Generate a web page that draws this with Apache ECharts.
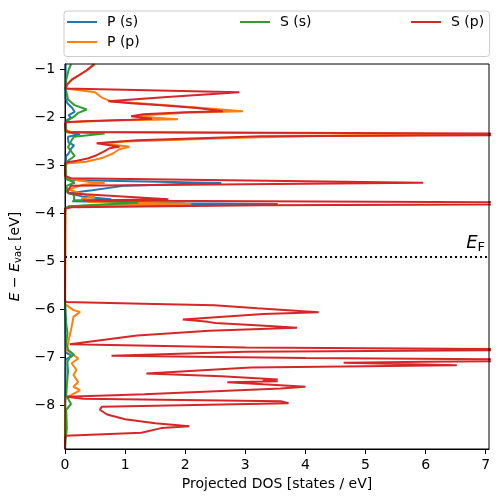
<!DOCTYPE html>
<html>
<head>
<meta charset="utf-8">
<script src="https://cdn.jsdelivr.net/npm/echarts@6/dist/echarts.min.js"></script>
<style>html,body{margin:0;padding:0;background:#fff;}#c{width:499px;height:502px;}</style>
</head>
<body>
<div id="c"></div>
<script>
// ---------- data (energy in eV relative to vacuum, DOS in states/eV) ----------
const seriesNames = ['P (s)', 'P (p)', 'S (s)', 'S (p)'];
const fermiLevel = -4.908;
const xTicks = [0, 1, 2, 3, 4, 5, 6, 7];
const yTicks = [-8, -7, -6, -5, -4, -3, -2, -1];

const energyPs = [-0.885,-1.3,-1.6,-1.70,-1.80,-1.88,-1.95,-2.0,-2.05,-2.15,-2.30,-2.345,-2.40,-2.45,-2.52,-2.58,-2.65,-2.75,-2.80,-2.95,-3.28,-3.30,-3.363,-3.42,-3.516,-3.578,-3.65,-3.704,-3.745,-3.79,-3.805,-3.84,-3.88,-4.0,-5.8,-6.9,-6.98,-7.05,-8.92];
const dosPs    = [0.01,0.01,0.01,0.04,0.12,0.16,0.06,0.10,0.03,0.01,0.01,0.25,0.05,0.05,0.06,0.15,0.10,0.06,0.02,0.01,0.01,0.05,2.60,1.00,0.45,0.06,0.30,0.77,0.12,2.00,3.54,0.30,0.02,0.0,0.0,0.01,0.12,0.01,0.0];

const energyPp = [-0.885,-1.0,-1.1,-1.2,-1.3,-1.39,-1.47,-1.57,-1.66,-1.74,-1.82,-1.866,-1.90,-1.96,-2.0,-2.033,-2.06,-2.096,-2.26,-2.30,-2.345,-2.39,-2.42,-2.50,-2.534,-2.61,-2.66,-2.75,-2.85,-2.92,-2.96,-3.2,-3.27,-3.345,-3.363,-3.40,-3.50,-3.60,-3.66,-3.69,-3.72,-3.76,-3.80,-3.85,-3.9,-5.85,-5.895,-6.02,-6.057,-6.16,-6.37,-6.647,-6.856,-6.925,-7.03,-7.13,-7.27,-7.375,-7.52,-7.62,-7.69,-7.79,-7.83,-7.9,-8.92];
const dosPp    = [0.50,0.38,0.25,0.12,0.04,0.01,0.50,0.60,0.76,1.70,2.50,2.96,2.00,1.20,1.50,1.88,0.80,0.02,0.02,0.10,7.00,4.00,2.90,1.00,0.60,1.07,0.90,0.80,0.60,0.35,0.02,0.01,0.05,0.40,0.66,0.30,0.06,0.30,0.50,0.27,0.30,0.40,2.10,0.10,0.01,0.0,0.0,0.14,0.25,0.14,0.11,0.06,0.03,0.11,0.22,0.11,0.19,0.14,0.22,0.14,0.25,0.11,0.03,0.0,0.0];

const energySs = [-0.885,-1.0,-1.2,-1.4,-1.5,-1.62,-1.74,-1.83,-1.90,-1.97,-2.05,-2.10,-2.30,-2.33,-2.40,-2.47,-2.62,-2.80,-2.90,-3.0,-3.28,-3.36,-3.42,-3.55,-3.62,-3.72,-3.78,-3.85,-3.9,-5.85,-6.3,-6.5,-6.7,-6.85,-6.95,-7.0,-7.1,-7.3,-7.6,-7.8,-7.98,-8.1,-8.5,-8.7,-8.92];
const dosSs    = [0.10,0.06,0.02,0.01,0.03,0.05,0.16,0.36,0.22,0.16,0.06,0.01,0.02,0.66,0.15,0.11,0.05,0.16,0.05,0.01,0.02,0.16,0.03,0.03,0.15,0.15,1.22,0.06,0.0,0.0,0.02,0.04,0.02,0.05,0.15,0.08,0.04,0.05,0.03,0.02,0.10,0.02,0.03,0.01,0.0];

const energySp = [-0.885,-1.01,-1.115,-1.20,-1.30,-1.39,-1.43,-1.47,-1.57,-1.658,-1.70,-1.741,-1.80,-1.866,-1.89,-1.93,-1.971,-2.002,-2.023,-2.044,-2.075,-2.096,-2.16,-2.26,-2.30,-2.345,-2.388,-2.47,-2.534,-2.608,-2.639,-2.701,-2.785,-2.848,-2.90,-2.937,-3.0,-3.22,-3.265,-3.359,-3.42,-3.516,-3.578,-3.704,-3.73,-3.755,-3.79,-3.83,-3.87,-3.90,
                  -5.80,-5.85,-5.885,-5.917,-5.98,-6.063,-6.10,-6.215,-6.24,-6.265,-6.29,-6.35,-6.386,-6.45,-6.55,-6.731,-6.80,-6.846,-6.89,-6.971,-7.02,-7.06,-7.10,-7.121,-7.169,-7.217,-7.342,-7.40,-7.447,-7.47,-7.49,-7.505,-7.524,-7.57,-7.618,-7.656,-7.775,-7.831,-7.87,-7.921,-7.962,-8.040,-8.10,-8.20,-8.30,-8.38,-8.443,-8.484,-8.582,-8.645,-8.735,-8.92];
const dosSp    = [0.48,0.36,0.23,0.12,0.04,0.01,0.02,2.90,1.70,0.72,1.10,1.60,2.20,2.63,2.00,1.30,1.10,1.30,1.45,1.10,0.30,0.01,0.00,0.01,0.05,10.6,3.26,1.20,0.525,0.906,0.74,0.66,0.525,0.39,0.20,0.01,0.00,0.00,0.10,5.96,0.10,0.05,0.05,1.72,0.30,0.30,12.0,3.30,0.10,0.00,
                  0.00,0.01,1.30,2.48,3.20,4.22,3.30,1.96,2.20,2.38,2.50,3.40,3.86,2.40,1.20,0.08,3.00,9.00,3.00,0.774,4.00,9.00,6.00,4.635,6.52,3.09,1.354,2.60,3.26,3.54,3.29,3.54,2.70,3.30,4.00,3.59,1.32,0.03,0.30,3.59,3.72,0.61,0.58,0.70,1.00,1.50,2.07,1.60,1.27,0.01,0.00,0.00];

// ---------- chart ----------
const colors = ['#1f77b4', '#ff7f0e', '#2ca02c', '#d62728'];
const energies = [energyPs, energyPp, energySs, energySp];
const doses = [dosPs, dosPp, dosSs, dosSp];
const minus = v => String(v).replace('-', '\u2212');
const FONT = 'DejaVu Sans';

const series = seriesNames.map((name, k) => ({
  name, type: 'line', symbol: 'none', clip: true, z: 2 + k,
  lineStyle: { color: colors[k], width: 2 }, itemStyle: { color: colors[k] },
  data: energies[k].map((e, i) => [doses[k][i], e])
}));
series[0].markLine = {
  silent: true, symbol: 'none', animation: false,
  lineStyle: { color: '#000', width: 2, type: [2, 3] },
  label: {
    position: 'insideEndTop', distance: [4, 3],
    formatter: '{e|E}{f|F}',
    rich: {
      e: { fontFamily: FONT, fontStyle: 'italic', fontSize: 18, color: '#000' },
      f: { fontFamily: FONT, fontSize: 13, color: '#000', padding: [9, 0, 0, 0] }
    }
  },
  data: [{ yAxis: fermiLevel }]
};

const chart = echarts.init(document.getElementById('c'), null, { renderer: 'canvas' });
const legendBase = {
  orient: 'vertical', icon: 'rect', itemWidth: 30, itemHeight: 2, itemGap: 6, padding: 0,
  textStyle: { fontFamily: FONT, fontSize: 14, color: '#000', padding: [0, 0, 0, 5] },
  selectedMode: false, z: 10
};
chart.setOption({
  animation: false,
  backgroundColor: '#fff',
  color: colors,
  grid: { left: 63, right: 10, top: 64, bottom: 53, show: true, borderColor: '#000', borderWidth: 1, backgroundColor: 'transparent', z: 20 },
  legend: [
    Object.assign({}, legendBase, { data: [seriesNames[0], seriesNames[1]], left: 67, top: 15 }),
    Object.assign({}, legendBase, { data: [seriesNames[2]], left: 240, top: 15 }),
    Object.assign({}, legendBase, { data: [seriesNames[3]], left: 411, top: 15 })
  ],
  graphic: [{
    type: 'rect', left: 63.5, top: 10.5, z: 5,
    shape: { width: 425.5, height: 45.5, r: 3 },
    style: { fill: '#fff', stroke: '#cccccc', lineWidth: 1 }
  }],
  xAxis: {
    type: 'value', min: 0, max: 7.055,
    name: 'Projected DOS [states / eV]', nameLocation: 'middle', nameGap: 27,
    nameTextStyle: { fontFamily: FONT, fontSize: 14, color: '#000' },
    axisLine: { show: true, lineStyle: { color: '#000', width: 1 } },
    axisTick: { show: true, length: 5, customValues: xTicks, lineStyle: { color: '#000' } },
    axisLabel: { customValues: xTicks, formatter: minus, fontFamily: FONT, fontSize: 14, color: '#000', margin: 9 },
    splitLine: { show: false }
  },
  yAxis: {
    type: 'value', min: -8.92, max: -0.88,
    name: '{i|E} \u2212 {i|E}{s|vac} [eV]', nameLocation: 'middle', nameGap: 39, nameRotate: 90,
    nameTextStyle: {
      fontFamily: FONT, fontSize: 14, color: '#000',
      rich: {
        i: { fontFamily: FONT, fontStyle: 'italic', fontSize: 14, color: '#000' },
        s: { fontFamily: FONT, fontSize: 10, color: '#000', padding: [7, 0, 0, 0] }
      }
    },
    axisLine: { show: true, lineStyle: { color: '#000', width: 1 } },
    axisTick: { show: true, length: 5, customValues: yTicks, lineStyle: { color: '#000' } },
    axisLabel: { customValues: yTicks, formatter: minus, fontFamily: FONT, fontSize: 14, color: '#000', margin: 10 },
    splitLine: { show: false }
  },
  series
});
</script>
</body>
</html>
